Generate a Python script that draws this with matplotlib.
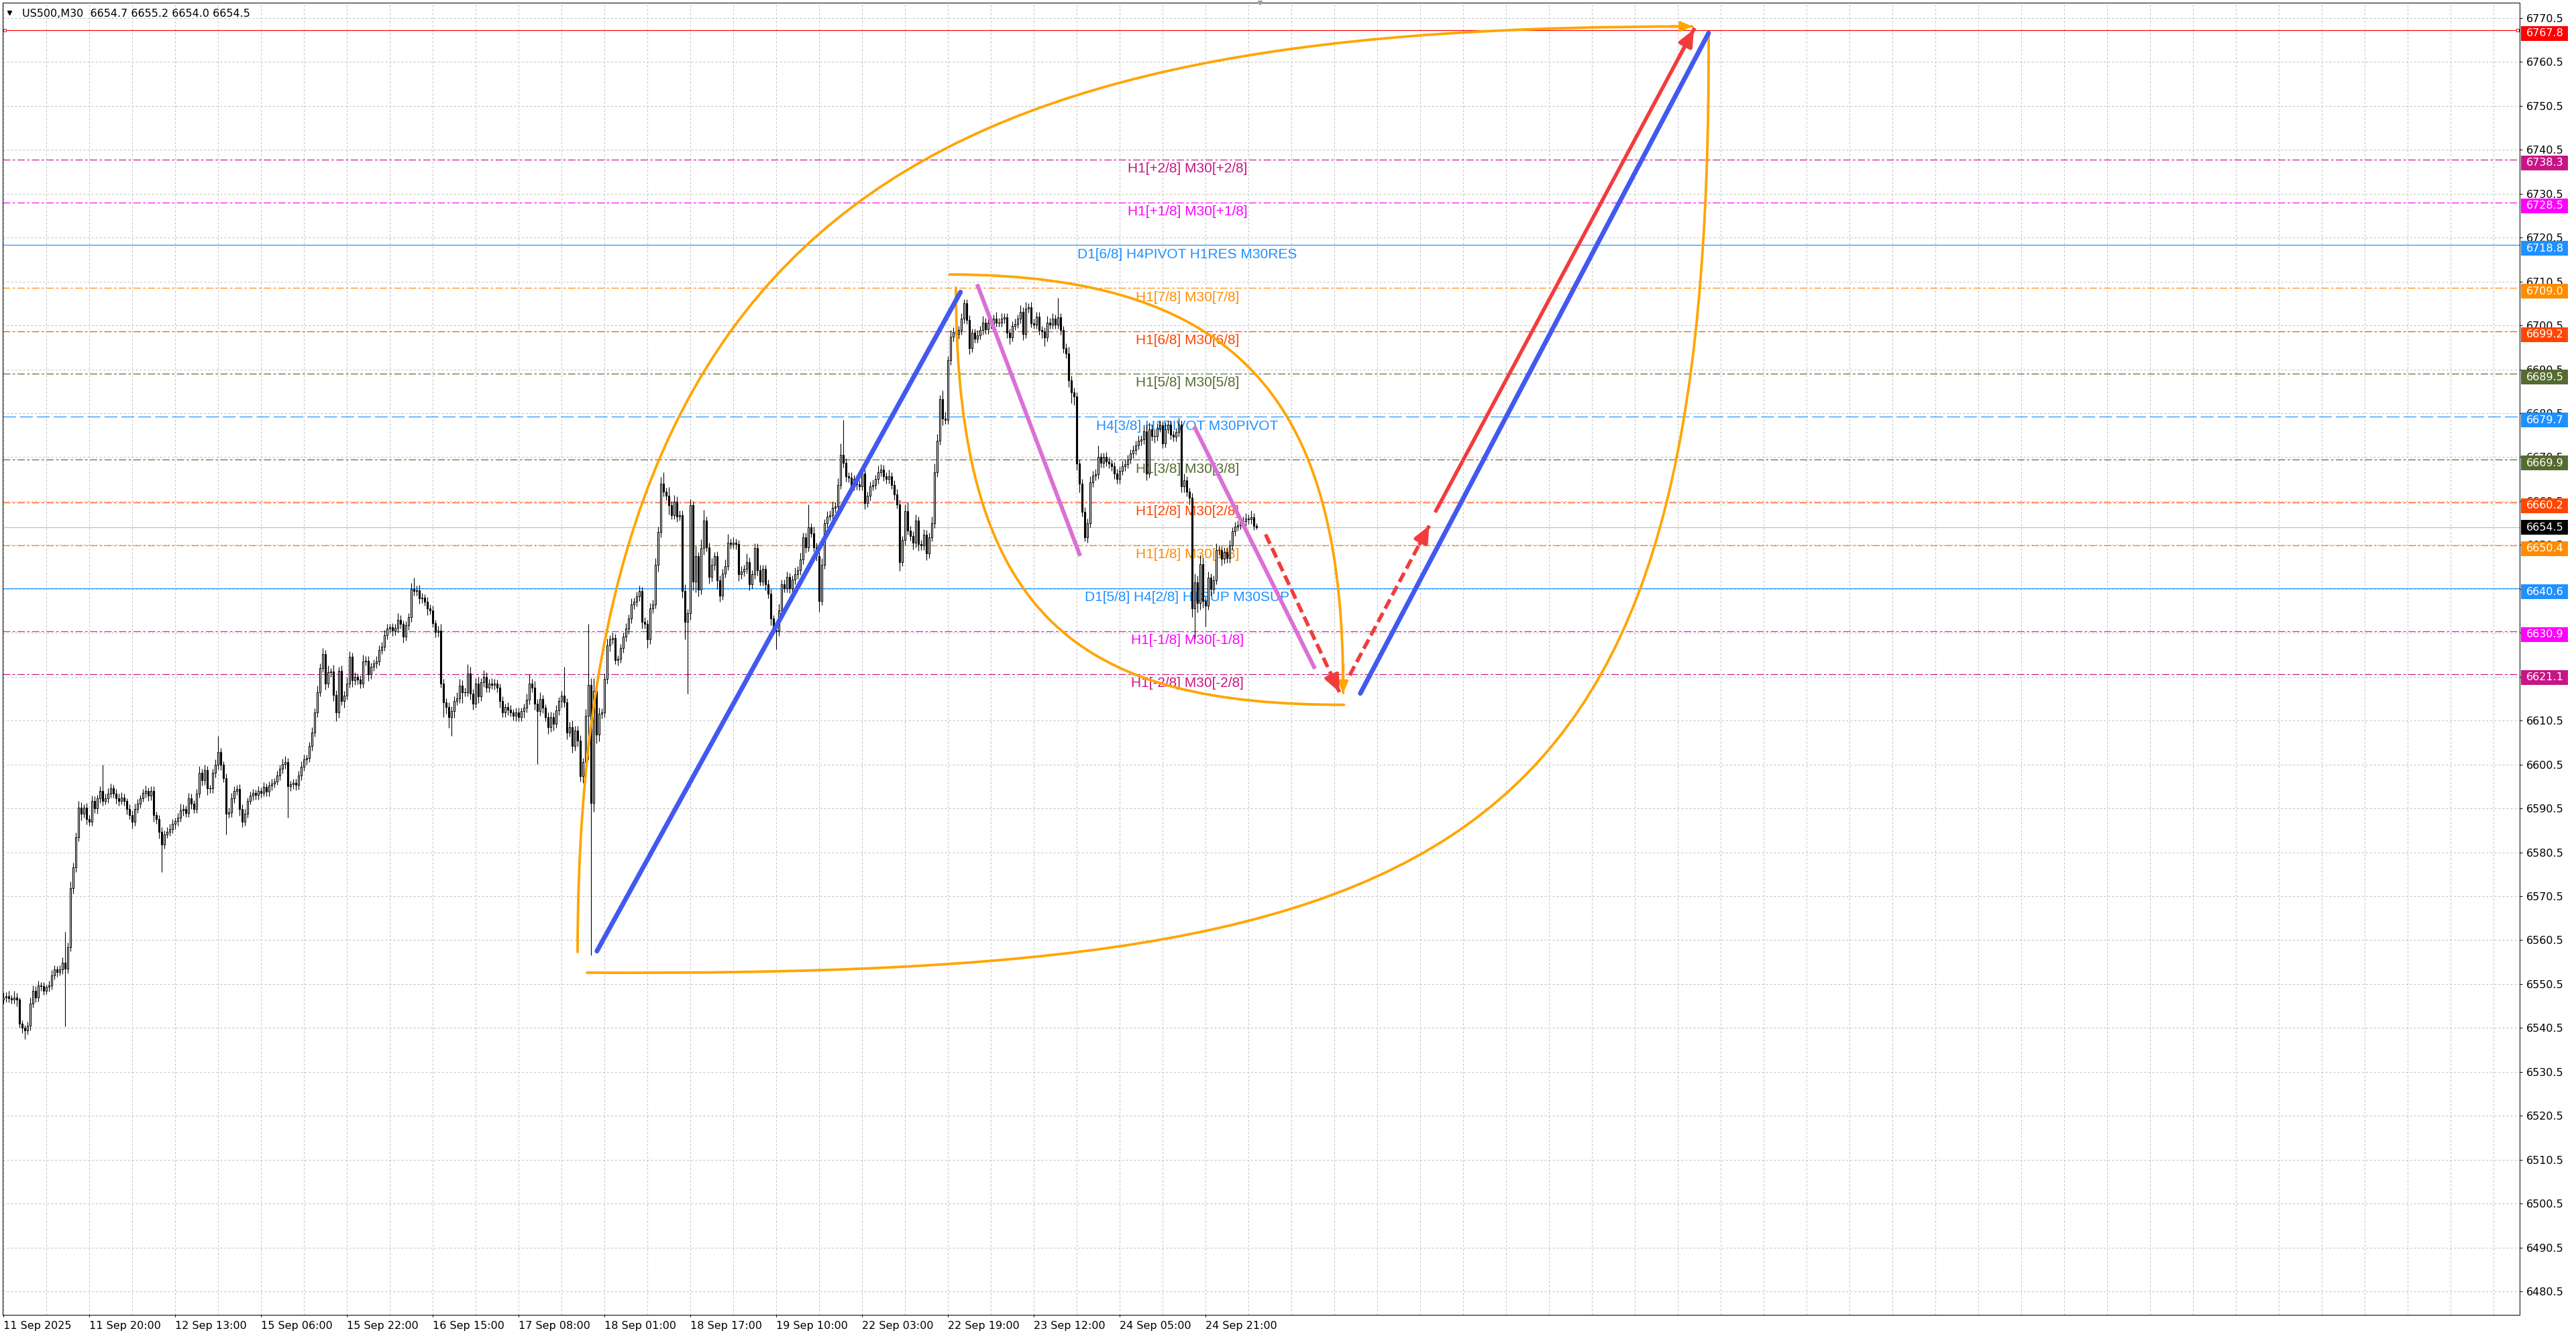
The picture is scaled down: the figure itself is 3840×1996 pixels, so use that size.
import matplotlib.pyplot as plt
import matplotlib.transforms as mtransforms
import numpy as np
from matplotlib.patches import PathPatch, Rectangle
from matplotlib.path import Path

# --- dados: candles M30 (índice da barra no eixo x) ---
first_open = 6547.0
closes = [
    6547.5, 6547.8, 6547.2, 6547.0, 6547.5, 6547.0, 6541.5, 6540.5, 6540.0, 6541.0,
    6546.0, 6549.0, 6547.5, 6550.2, 6550.0, 6549.0, 6549.8, 6550.2, 6552.5, 6553.8,
    6553.2, 6553.8, 6555.4, 6554.0, 6558.9, 6572.3, 6577.0, 6584.0, 6590.7, 6589.3,
    6590.7, 6588.0, 6587.5, 6592.2, 6590.5, 6592.8, 6594.5, 6592.2, 6592.8, 6593.9,
    6595.1, 6593.9, 6592.8, 6592.2, 6593.0, 6592.2, 6590.4, 6589.0, 6587.5, 6590.4,
    6591.6, 6592.8, 6594.0, 6594.5, 6593.4, 6594.5, 6589.0, 6588.0, 6585.2, 6582.3,
    6584.6, 6585.2, 6585.8, 6587.0, 6587.6, 6588.4, 6590.1, 6590.4, 6589.5, 6592.8,
    6591.6, 6590.4, 6593.9, 6598.6, 6596.9, 6599.2, 6595.1, 6595.1, 6598.6, 6600.4,
    6603.3, 6600.4, 6597.4, 6589.3, 6589.6, 6592.8, 6594.5, 6595.0, 6590.4, 6587.5,
    6589.3, 6592.2, 6593.4, 6594.0, 6593.5, 6594.5, 6594.0, 6595.4, 6594.3, 6595.7,
    6596.2, 6596.6, 6598.0, 6599.5, 6600.6, 6601.0, 6595.5, 6596.0, 6596.3, 6595.8,
    6598.0, 6600.0, 6601.7, 6602.0, 6604.7, 6607.8, 6612.3, 6617.0, 6622.5, 6625.6,
    6619.0, 6621.5, 6621.7, 6616.4, 6612.3, 6621.8, 6615.0, 6616.2, 6619.0, 6625.0,
    6619.7, 6620.5, 6619.8, 6619.0, 6624.0, 6624.2, 6621.0, 6622.8, 6623.5, 6624.0,
    6626.6, 6627.4, 6630.0, 6631.5, 6631.7, 6631.0, 6631.6, 6633.5, 6632.5, 6629.7,
    6632.2, 6634.0, 6640.4, 6640.0, 6640.2, 6638.3, 6638.5, 6637.6, 6636.0, 6635.6,
    6632.7, 6630.7, 6631.0, 6619.0, 6614.6, 6613.6, 6611.3, 6612.6, 6615.0, 6615.5,
    6618.5, 6617.0, 6617.0, 6621.3, 6616.7, 6614.4, 6619.0, 6616.0, 6619.2, 6620.5,
    6618.0, 6619.0, 6618.7, 6619.0, 6618.0, 6615.0, 6612.3, 6613.6, 6613.0, 6612.4,
    6611.6, 6612.4, 6611.3, 6612.6, 6613.4, 6615.2, 6619.0, 6618.0, 6614.4, 6612.6,
    6615.4, 6613.4, 6611.3, 6609.0, 6611.3, 6609.8, 6612.8, 6614.9, 6616.2, 6614.6,
    6607.8, 6609.0, 6604.7, 6608.3, 6606.0, 6597.8, 6601.0, 6611.6, 6618.7, 6591.7,
    6617.2, 6607.3, 6612.0, 6612.3, 6620.0, 6627.7, 6629.0, 6629.3, 6624.3, 6624.6,
    6627.0, 6629.6, 6631.5, 6633.7, 6636.9, 6637.5, 6638.8, 6640.0, 6633.0, 6632.5,
    6629.0, 6636.0, 6637.0, 6646.0, 6653.5, 6664.5, 6662.6, 6661.7, 6659.5, 6657.3,
    6660.4, 6657.0, 6657.3, 6640.0, 6633.0, 6634.9, 6659.5, 6642.2, 6647.9, 6640.3,
    6649.8, 6656.0, 6650.0, 6643.2, 6646.0, 6647.9, 6642.5, 6639.0, 6644.0, 6645.7,
    6651.0, 6650.7, 6651.0, 6650.7, 6643.8, 6644.4, 6645.0, 6646.6, 6641.6, 6643.8,
    6649.8, 6644.7, 6642.2, 6645.0, 6641.6, 6639.4, 6633.7, 6631.2, 6630.8, 6635.6,
    6641.6, 6640.7, 6643.2, 6640.7, 6642.6, 6643.8, 6644.7, 6647.2, 6652.3, 6650.0,
    6654.5, 6653.2, 6650.0, 6647.9, 6637.8, 6646.0, 6655.4, 6657.0, 6657.3, 6658.9,
    6659.2, 6664.2, 6671.1, 6669.2, 6666.1, 6665.8, 6663.9, 6665.5, 6664.3, 6663.9,
    6666.7, 6660.1, 6661.7, 6663.9, 6664.2, 6665.5, 6667.1, 6667.7, 6666.1, 6665.5,
    6666.1, 6664.2, 6662.0, 6659.8, 6646.6, 6651.6, 6658.2, 6653.8, 6652.6, 6651.0,
    6656.0, 6650.7, 6650.4, 6652.9, 6648.5, 6652.3, 6655.4, 6667.0, 6674.3, 6683.7,
    6679.3, 6679.0, 6692.5, 6697.9, 6699.0, 6698.5, 6699.4, 6702.0, 6705.5, 6701.8,
    6695.4, 6698.8, 6697.5, 6698.3, 6699.4, 6701.2, 6699.6, 6701.2, 6700.8, 6702.0,
    6701.2, 6701.2, 6702.0, 6702.3, 6698.8, 6697.8, 6700.4, 6700.9, 6702.0, 6703.6,
    6698.6, 6704.4, 6704.6, 6701.0, 6700.7, 6702.5, 6699.4, 6699.1, 6697.8, 6701.2,
    6700.7, 6702.0, 6700.7, 6702.3, 6699.4, 6695.4, 6694.1, 6688.0, 6685.3, 6684.3,
    6669.0, 6664.5, 6658.1, 6652.3, 6655.5, 6664.7, 6666.3, 6666.6, 6670.5, 6669.2,
    6670.5, 6669.5, 6669.0, 6668.4, 6666.8, 6665.5, 6667.4, 6668.4, 6668.9, 6670.0,
    6671.3, 6672.1, 6673.2, 6674.2, 6674.5, 6676.4, 6666.8, 6676.9, 6675.3, 6675.3,
    6677.2, 6677.7, 6673.7, 6676.9, 6677.9, 6675.6, 6675.1, 6676.2, 6677.9, 6663.9,
    6665.2, 6662.6, 6661.3, 6636.1, 6642.0, 6637.2, 6646.2, 6637.7, 6636.7, 6643.0,
    6640.4, 6642.5, 6649.4, 6649.3, 6647.3, 6648.9, 6647.5, 6650.4, 6653.6, 6654.7,
    6655.0, 6655.7, 6655.9, 6656.5, 6656.3, 6656.8, 6654.9, 6654.5,
]
upper_wick = [
    1.0, 0.8, 1.2, 0.8, 1.5, 1.0, 0.5, 0.8, 0.6, 1.0, 1.5, 1.2, 1.0, 1.0, 0.8, 1.0, 0.6, 1.0, 1.2, 1.0,
    0.8, 1.0, 1.2, 7.0, 1.0, 1.5, 1.2, 1.0, 1.5, 1.2, 0.8, 1.0, 1.0, 1.2, 1.0, 0.8, 1.0, 6.0, 1.0, 1.2,
    1.0, 0.8, 1.0, 1.0, 1.2, 0.8, 0.6, 1.0, 1.0, 1.2, 1.0, 0.8, 1.0, 1.2, 0.8, 1.0, 1.0, 0.8, 1.0, 1.0,
    0.8, 1.0, 1.2, 1.0, 0.8, 1.0, 1.5, 1.0, 0.8, 1.2, 1.0, 0.8, 1.0, 1.5, 1.0, 1.2, 1.0, 0.8, 1.0, 1.2,
    3.7, 1.0, 0.8, 1.0, 1.0, 1.2, 1.0, 0.8, 1.0, 1.0, 1.0, 0.8, 1.0, 1.0, 0.8, 1.0, 0.8, 1.0, 0.8, 1.0,
    1.0, 0.8, 1.0, 1.0, 1.2, 1.5, 1.0, 0.8, 1.0, 1.0, 1.0, 1.2, 1.0, 0.8, 1.0, 1.2, 1.0, 1.5, 1.0, 1.5,
    1.0, 1.5, 0.8, 1.5, 1.0, 1.0, 1.2, 1.0, 1.5, 1.2, 1.0, 1.0, 0.8, 1.0, 1.5, 1.0, 1.0, 0.8, 1.0, 1.2,
    1.0, 1.0, 1.2, 1.0, 0.8, 1.0, 1.0, 1.5, 1.0, 0.8, 1.0, 1.0, 1.5, 2.6, 1.0, 1.2, 1.0, 0.8, 1.0, 1.0,
    1.0, 0.8, 1.0, 1.5, 1.0, 1.0, 1.0, 1.2, 1.0, 1.5, 1.5, 1.2, 1.0, 2.0, 1.5, 1.0, 1.2, 1.5, 1.0, 1.5,
    1.0, 1.0, 1.2, 1.0, 0.8, 1.0, 1.0, 0.8, 1.0, 1.0, 0.8, 1.0, 1.0, 0.8, 1.0, 1.5, 2.0, 1.0, 1.5, 1.0,
    1.5, 1.0, 0.8, 1.0, 1.2, 1.0, 1.2, 1.0, 1.0, 6.6, 1.0, 1.2, 1.5, 1.0, 1.0, 1.2, 1.0, 1.5, 13.8, 1.5,
    3.0, 2.0, 1.5, 1.0, 1.2, 1.5, 1.0, 1.2, 1.0, 0.8, 1.0, 1.0, 1.2, 1.0, 1.5, 1.0, 1.0, 1.2, 1.0, 1.0,
    1.0, 1.2, 1.0, 1.5, 1.2, 1.5, 2.5, 1.0, 2.0, 1.0, 1.5, 1.2, 1.0, 1.0, 1.5, 1.0, 1.5, 1.0, 2.5, 1.0,
    2.0, 2.5, 1.0, 1.0, 1.5, 1.0, 1.2, 1.0, 1.0, 1.5, 2.0, 1.0, 1.2, 1.0, 1.0, 1.2, 1.0, 2.0, 1.0, 1.0,
    1.0, 1.0, 1.2, 1.0, 1.0, 1.0, 1.0, 0.8, 1.0, 1.5, 1.0, 1.0, 1.2, 1.0, 1.0, 1.5, 1.0, 1.5, 1.0, 1.0,
    5.3, 1.0, 1.5, 1.0, 1.0, 1.5, 1.0, 1.2, 1.0, 1.5, 1.0, 1.5, 2.5, 7.9, 1.0, 1.0, 1.2, 1.0, 1.0, 1.0,
    1.5, 1.0, 1.0, 1.0, 1.2, 1.0, 1.5, 1.2, 1.0, 1.0, 1.5, 1.0, 1.0, 1.2, 1.0, 1.0, 1.5, 2.0, 1.0, 1.0,
    1.5, 1.0, 1.0, 1.2, 1.0, 1.0, 1.5, 2.0, 1.5, 1.0, 2.0, 1.5, 1.0, 1.5, 1.0, 1.0, 1.0, 1.2, 1.0, 1.0,
    1.0, 1.0, 1.0, 1.2, 1.0, 1.5, 1.0, 1.0, 1.2, 1.0, 1.5, 1.0, 1.2, 1.0, 1.0, 1.0, 1.0, 1.2, 1.0, 1.5,
    1.0, 1.5, 1.0, 1.2, 1.0, 1.0, 1.0, 1.0, 1.0, 1.5, 1.0, 1.2, 1.0, 4.5, 1.0, 1.0, 1.0, 1.5, 1.0, 1.0,
    1.0, 1.0, 1.0, 1.0, 1.0, 1.5, 1.0, 1.2, 2.7, 1.0, 1.0, 1.2, 1.0, 1.0, 1.0, 1.0, 1.0, 1.2, 1.0, 1.0,
    1.0, 1.0, 1.0, 1.2, 1.0, 1.5, 1.5, 1.5, 1.0, 1.5, 1.0, 1.2, 1.0, 1.5, 1.0, 1.0, 1.0, 1.0, 1.6, 1.0,
    1.5, 1.0, 1.0, 1.0, 2.0, 1.5, 2.0, 1.5, 1.0, 1.5, 1.0, 1.0, 1.5, 1.0, 1.0, 1.0, 1.0, 1.2, 1.0, 1.0,
    1.0, 1.0, 1.0, 1.2, 1.0, 1.5, 1.0, 0.5,
]
lower_wick = [
    1.0, 1.2, 0.8, 1.0, 1.0, 1.5, 1.0, 1.2, 2.1, 1.0, 1.0, 0.8, 1.2, 1.0, 1.0, 1.0, 0.8, 1.0, 1.0, 1.0,
    1.0, 0.8, 1.0, 13.2, 1.0, 1.0, 1.2, 1.0, 1.0, 1.5, 1.0, 1.2, 1.0, 1.0, 1.0, 1.2, 1.0, 1.0, 0.8, 1.0,
    1.0, 1.0, 1.2, 1.0, 0.8, 1.0, 1.2, 1.0, 1.5, 1.0, 1.0, 1.0, 0.8, 1.0, 1.2, 1.0, 1.5, 1.0, 1.5, 6.3,
    1.0, 0.8, 1.0, 1.0, 1.2, 1.0, 1.0, 1.2, 1.0, 1.0, 1.2, 1.0, 1.0, 1.0, 1.2, 1.0, 1.5, 1.0, 1.0, 1.0,
    1.0, 1.2, 1.0, 4.7, 1.0, 1.0, 1.0, 1.0, 1.5, 1.2, 1.0, 1.0, 0.8, 1.0, 1.0, 1.0, 1.0, 0.8, 1.0, 1.0,
    1.0, 1.0, 0.8, 1.0, 1.0, 1.0, 7.1, 1.0, 1.0, 1.2, 1.0, 1.0, 1.0, 1.2, 1.0, 1.0, 1.0, 1.0, 1.0, 1.0,
    1.5, 1.0, 1.0, 1.5, 2.0, 1.2, 1.0, 1.5, 1.0, 1.0, 1.5, 1.0, 1.0, 1.2, 1.0, 1.0, 1.5, 1.0, 1.0, 1.0,
    1.0, 1.0, 1.0, 1.0, 1.0, 1.2, 1.0, 1.0, 1.0, 1.5, 1.0, 1.0, 1.0, 1.0, 1.0, 1.2, 1.0, 1.0, 1.5, 1.0,
    1.0, 1.2, 1.0, 1.0, 3.3, 1.5, 2.5, 4.3, 1.5, 1.0, 1.0, 2.5, 1.0, 1.0, 1.5, 1.5, 1.0, 1.5, 1.0, 1.0,
    1.0, 1.0, 1.0, 1.2, 1.0, 1.5, 1.0, 1.0, 1.2, 1.0, 1.0, 1.2, 1.0, 1.0, 1.5, 1.0, 1.0, 1.0, 1.5, 12.0,
    1.0, 1.2, 1.0, 1.5, 1.0, 1.5, 1.0, 1.0, 1.5, 1.0, 1.5, 1.0, 1.5, 1.0, 1.5, 1.2, 1.5, 1.0, 10.0, 34.7,
    2.0, 2.0, 1.5, 1.0, 1.0, 1.0, 1.5, 1.0, 1.0, 1.2, 1.0, 1.0, 1.0, 1.2, 1.0, 1.0, 1.0, 1.0, 1.5, 1.0,
    2.0, 1.0, 1.0, 1.0, 1.5, 1.2, 1.0, 1.0, 2.0, 1.0, 1.0, 1.2, 1.0, 1.5, 4.0, 16.3, 1.5, 2.0, 2.5, 1.5,
    1.0, 1.5, 1.0, 1.5, 1.0, 1.2, 2.0, 1.5, 1.0, 1.0, 1.0, 1.0, 1.0, 1.2, 1.5, 1.0, 1.0, 1.0, 1.5, 1.0,
    1.0, 1.2, 1.0, 1.0, 1.5, 1.0, 1.5, 1.0, 4.0, 1.0, 1.0, 1.0, 1.0, 1.2, 1.0, 1.0, 1.0, 1.0, 1.0, 1.2,
    1.0, 1.0, 1.0, 1.0, 2.5, 1.0, 1.0, 1.0, 1.0, 1.0, 1.0, 1.0, 1.0, 1.0, 1.2, 1.0, 1.0, 1.0, 1.2, 1.0,
    1.0, 1.5, 1.0, 1.0, 1.0, 1.0, 1.0, 1.0, 1.0, 1.0, 1.0, 1.0, 1.2, 1.0, 2.0, 1.0, 1.0, 1.0, 1.2, 1.5,
    1.0, 1.5, 1.0, 1.0, 1.5, 1.0, 1.0, 1.0, 1.0, 1.0, 1.5, 1.0, 1.0, 1.0, 1.0, 1.0, 1.0, 1.0, 1.0, 1.0,
    1.5, 1.0, 1.0, 1.0, 1.0, 1.0, 1.0, 1.0, 1.0, 1.0, 1.0, 1.0, 1.0, 1.0, 1.2, 1.5, 1.0, 1.0, 1.0, 1.0,
    1.5, 1.0, 1.0, 1.0, 1.0, 1.0, 1.0, 1.5, 2.0, 1.0, 1.0, 1.0, 1.0, 1.0, 1.0, 1.2, 1.0, 1.5, 2.5, 2.0,
    1.5, 2.0, 1.2, 1.0, 1.3, 1.0, 1.0, 1.0, 1.0, 1.0, 1.0, 1.0, 1.0, 1.0, 1.2, 1.0, 1.0, 1.0, 1.0, 1.0,
    1.0, 1.0, 1.0, 1.0, 1.0, 1.0, 1.5, 1.0, 1.0, 1.5, 1.0, 1.0, 1.2, 1.0, 1.0, 1.0, 1.0, 1.0, 1.0, 1.5,
    1.5, 1.0, 1.5, 2.0, 7.0, 2.0, 1.5, 1.5, 4.8, 1.0, 1.5, 1.0, 1.0, 1.0, 1.5, 1.0, 1.0, 1.0, 1.0, 1.0,
    1.0, 1.0, 1.0, 1.0, 1.0, 1.0, 1.0, 0.5,
]

date_labels = ["11 Sep 2025", "11 Sep 20:00", "12 Sep 13:00", "15 Sep 06:00", "15 Sep 22:00",
               "16 Sep 15:00", "17 Sep 08:00", "18 Sep 01:00", "18 Sep 17:00", "19 Sep 10:00",
               "22 Sep 03:00", "22 Sep 19:00", "23 Sep 12:00", "24 Sep 05:00", "24 Sep 21:00"]
date_ticks = [0, 32, 64, 96, 128, 160, 192, 224, 256, 288, 320, 352, 384, 416, 448]

# níveis horizontais (Murrey / pivots)
levels = [6738.3, 6728.5, 6718.8, 6709.0, 6699.2, 6689.5, 6679.7,
          6669.9, 6660.2, 6650.4, 6640.6, 6630.9, 6621.1]
level_names = ["H1[+2/8] M30[+2/8]", "H1[+1/8] M30[+1/8]", "D1[6/8] H4PIVOT H1RES M30RES",
               "H1[7/8] M30[7/8]", "H1[6/8] M30[6/8]", "H1[5/8] M30[5/8]",
               "H4[3/8] H1PIVOT M30PIVOT", "H1[3/8] M30[3/8]", "H1[2/8] M30[2/8]",
               "H1[1/8] M30[1/8]", "D1[5/8] H4[2/8] H1SUP M30SUP", "H1[-1/8] M30[-1/8]",
               "H1[-2/8] M30[-2/8]"]
level_colors = ["#C71585", "#FF00FF", "#1E90FF", "#FF8C00", "#FF4500", "#556B2F", "#1E90FF",
                "#556B2F", "#FF4500", "#FF8C00", "#1E90FF", "#FF00FF", "#C71585"]
level_styles = ["dashdot", "dashdot", "solid", "dashdot", "dashdot", "dashdot", "dashed",
                "dashdot", "dashdot", "dashdot", "solid", "dashdot", "dashdot"]
target_level = 6767.8
current_price = 6654.5
title = "US500,M30  6654.7 6655.2 6654.0 6654.5"

# desenhos (barra, preço)
outer_arc = [(214.0, 6557.8), (214.3, 6737.2), (366.1, 6768.6), (629.4, 6768.6)]
bottom_arc = [(217.5, 6553.1), (549.8, 6552.0), (636.7, 6580.1), (635.5, 6767.1)]
inner_top_arc = [(352.6, 6712.1), (464.0, 6712.1), (499.6, 6681.1), (499.3, 6616.8)]
inner_low_arc = [(355.0, 6709.1), (355.0, 6632.4), (402.8, 6614.1), (499.6, 6614.1)]
blue_lines = [[(221.2, 6558.0), (356.7, 6708.1)], [(505.7, 6616.7), (635.5, 6767.1)]]
pink_lines = [[(362.9, 6709.9), (401.3, 6648.0)], [(443.8, 6677.5), (488.8, 6622.3)]]
red_dashed = [[(470.4, 6652.9), (497.9, 6617.0)], [(501.7, 6620.8), (531.4, 6654.9)]]
red_solid = [(533.9, 6658.3), (630.0, 6767.9)]

# --- figura ---
W, H, DPI = 3840, 1996, 100
PX = 72.0 / DPI  # 1 pixel em pontos

fig = plt.figure(figsize=(W / DPI, H / DPI), dpi=DPI)
ax = fig.add_axes([4 / W, 36 / H, (3756 - 4) / W, (1960 - 4) / H])
ax.set_xlim(-0.25, 937.75)
ax.set_ylim(6475.16, 6774.01)

for s in ax.spines.values():
    s.set_color("black")
    s.set_linewidth(PX)

# grade pontilhada
yticks = np.arange(6480.5, 6771, 10)
for yv in yticks:
    ax.axhline(yv, color="#C0C0C0", lw=PX, dashes=(3, 3), zorder=0.5)
for xv in range(0, 938, 16):
    ax.axvline(xv, color="#C0C0C0", lw=PX, dashes=(3, 3), zorder=0.5)

ax.yaxis.tick_right()
ax.set_yticks(yticks)
ax.set_yticklabels([f"{v:.1f}" for v in yticks])
ax.set_xticks(date_ticks)
ax.set_xticklabels(date_labels, ha="left")
ax.tick_params(axis="y", length=4 * PX, width=PX, pad=5.5 * PX, labelsize=11.5, colors="black")
ax.tick_params(axis="x", length=3 * PX, width=PX, pad=6 * PX, labelsize=11.5, colors="black")

# linhas de nível e rótulos
dash_map = {"dashdot": (9, 3, 3, 3), "dashed": (16, 5)}
for lvl, name, col, sty in zip(levels, level_names, level_colors, level_styles):
    if sty == "solid":
        ax.axhline(lvl, color=col, lw=PX * 1.2, zorder=1)
    else:
        ax.axhline(lvl, color=col, lw=PX * 1.2, dashes=dash_map[sty], zorder=1)
    ax.text(441.25, lvl - 2.95, name, color=col, fontsize=15, family="Liberation Sans",
            ha="center", va="baseline", zorder=2)

ax.axhline(target_level, color="#FF0000", lw=PX * 1.2, zorder=1)
ax.plot([0.6, 937.0], [target_level, target_level], ls="none", marker="s", ms=3.2,
        mfc="white", mec="#FF0000", mew=PX, zorder=5, clip_on=False)
ax.axhline(current_price, color="#BEBEBE", lw=PX * 1.2, zorder=1)

# candles
x = np.arange(len(closes))
c = np.array(closes)
o = np.concatenate([[first_open], c[:-1]])
hi = np.maximum(o, c) + np.array(upper_wick)
lo = np.minimum(o, c) - np.array(lower_wick)
ax.vlines(x, lo, hi, color="black", lw=PX * 1.1, zorder=3)
up = c > o
dn = c < o
ax.bar(x[up], (c - o)[up], bottom=o[up], width=0.5, facecolor="white",
       edgecolor="black", lw=PX * 1.1, zorder=3.1)
ax.bar(x[dn], (o - c)[dn], bottom=c[dn], width=0.5, facecolor="black",
       edgecolor="black", lw=PX * 1.1, zorder=3.1)
flat = c == o
ax.hlines(c[flat], x[flat] - 0.4, x[flat] + 0.4, color="black", lw=PX, zorder=3.1)

# arcos laranja
curve_codes = [Path.MOVETO, Path.CURVE4, Path.CURVE4, Path.CURVE4]
for pts in (outer_arc, bottom_arc, inner_top_arc, inner_low_arc):
    ax.add_patch(PathPatch(Path(pts, curve_codes), fill=False, edgecolor="#FFA500",
                           lw=3.8 * PX, zorder=4, capstyle="round"))


def arrow_head(p_from, p_to, col, scale, frac=0.12, lw=1.0):
    back = (p_to[0] - frac * (p_to[0] - p_from[0]), p_to[1] - frac * (p_to[1] - p_from[1]))
    ax.annotate("", xy=p_to, xytext=back, zorder=6,
                arrowprops=dict(arrowstyle="-|>,head_length=0.9,head_width=0.4", color=col,
                                lw=lw, shrinkA=0, shrinkB=0, mutation_scale=scale))


arrow_head(outer_arc[2], outer_arc[3], "#FFA500", 11, frac=0.03, lw=3.8 * PX)
arrow_head(inner_top_arc[2], inner_top_arc[3], "#FFA500", 11, frac=0.1, lw=3.8 * PX)

for a, b in blue_lines:
    ax.plot([a[0], b[0]], [a[1], b[1]], color="#4259F0", lw=7 * PX,
            solid_capstyle="round", zorder=5)
for a, b in pink_lines:
    ax.plot([a[0], b[0]], [a[1], b[1]], color="#DA70D6", lw=6 * PX,
            solid_capstyle="butt", zorder=5)
for a, b in red_dashed:
    ax.plot([a[0], b[0]], [a[1], b[1]], color="#F23C3C", lw=5.5 * PX, dashes=(2.8, 1.3),
            zorder=5)
    arrow_head(a, b, "#F23C3C", 16, frac=0.12, lw=5.5 * PX)
ax.plot([red_solid[0][0], red_solid[1][0]], [red_solid[0][1], red_solid[1][1]],
        color="#F23C3C", lw=5.5 * PX, zorder=5)
arrow_head(red_solid[0], red_solid[1], "#F23C3C", 16, frac=0.06, lw=5.5 * PX)

# caixas de preço no eixo
trans = mtransforms.blended_transform_factory(ax.transAxes, ax.transData)
box_h = 22 / 6.545
box_x0 = (3758.3 - 4) / (3756 - 4)
box_w = 70 / (3756 - 4)
txt_x = (3765.7 - 4) / (3756 - 4)
box_items = [(target_level, "#FF0000", -0.75)] + \
    [(lvl, col, -0.75) for lvl, col in zip(levels, level_colors)] + \
    [(current_price, "black", 0.0)]
for lvl, col, off in box_items:
    yc = lvl + off
    ax.add_patch(Rectangle((box_x0, yc - box_h / 2), box_w, box_h, transform=trans,
                           facecolor=col, edgecolor="none", clip_on=False, zorder=10))
    ax.text(txt_x, yc, f"{lvl:.1f}", transform=trans, color="white", fontsize=11.5,
            ha="left", va="center", clip_on=False, zorder=11)

# cabeçalho
ax.plot([0.00275], [0.99223], marker="v", ms=5, color="black", transform=ax.transAxes,
        clip_on=False, zorder=12)
ax.text(0.0076, 0.99182, title, transform=ax.transAxes, fontsize=11.5, color="black",
        ha="left", va="center", zorder=12)
ax.plot([len(closes) + 0.25], [1.0], marker="v", ms=5, color="#A0A0A0",
        transform=mtransforms.blended_transform_factory(ax.transData, ax.transAxes),
        clip_on=False, zorder=12)

fig.savefig("out.png", dpi=DPI)
